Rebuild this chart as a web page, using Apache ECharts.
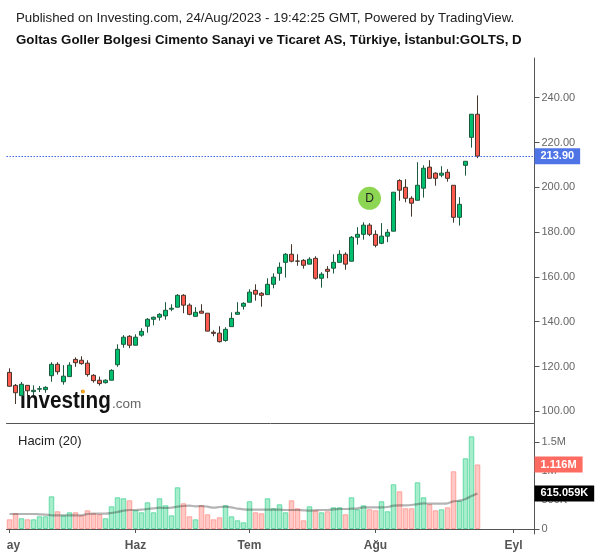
<!DOCTYPE html>
<html>
<head>
<meta charset="utf-8">
<style>html,body{margin:0;padding:0;background:#fff}#c{width:600px;height:558px}</style>
<script src="https://cdn.jsdelivr.net/npm/echarts@6/dist/echarts.min.js"></script>
</head>
<body>
<div id="c"></div>
<script>
const subtitleText = "Published on Investing.com, 24/Aug/2023 - 19:42:25 GMT, Powered by TradingView.";
const titleText = "Goltas Goller Bolgesi Cimento Sanayi ve Ticaret AS, Türkiye, İstanbul:GOLTS, D";
// [open, close, low, high]
const candles = [
[117.4,111.2,111.2,119.2],[111.6,108.3,103.3,112.2],[107.0,112.1,107.0,113.1],[111.6,109.2,107.3,111.6],
[108.8,109.4,107.3,111.6],[109.9,110.1,108.6,111.3],[109.7,110.7,108.3,111.2],[115.9,121.0,113.2,121.9],
[121.0,117.7,116.4,121.9],[113.2,115.7,111.9,120.6],[115.5,120.6,115.5,121.9],[123.2,121.7,119.9,124.1],
[122.8,121.3,120.8,124.6],[121.5,116.4,115.5,122.8],[116.1,113.7,112.8,116.6],[113.9,112.4,111.5,115.5],
[112.8,113.9,112.4,114.3],[113.9,118.3,113.9,118.8],[120.8,127.7,119.9,129.9],[129.9,133.1,128.4,134.0],
[133.5,129.5,128.2,134.0],[129.5,133.1,129.5,134.4],[134.0,135.7,133.3,137.1],[138.0,141.1,135.1,141.6],
[141.1,142.0,138.4,142.3],[142.0,143.3,140.5,143.8],[142.6,145.1,140.9,148.7],[145.6,146.0,144.7,147.8],
[146.5,151.8,146.5,152.3],[151.8,147.4,143.8,152.3],[147.4,143.3,142.9,148.2],[142.4,144.2,142.4,146.5],
[144.7,143.8,143.8,147.8],[143.8,135.8,135.8,143.8],[135.3,134.8,133.5,136.2],[134.9,131.1,130.7,138.0],
[131.6,136.6,131.1,137.5],[137.8,141.5,137.8,144.2],[143.3,144.2,143.3,148.7],[146.9,148.2,145.4,148.7],
[148.7,153.2,148.7,154.5],[154.0,152.3,149.4,156.7],[152.7,151.8,146.7,153.2],[152.1,156.7,152.1,159.4],
[156.7,159.9,154.9,161.6],[161.6,164.3,158.3,166.5],[166.5,170.1,159.7,170.6],[170.1,167.0,166.5,174.6],
[167.1,167.0,165.0,170.1],[167.4,165.2,163.7,167.9],[165.7,167.9,165.7,168.8],[168.3,159.4,158.8,169.2],
[159.4,161.2,155.2,162.1],[163.4,162.5,159.4,164.8],[163.9,166.5,161.5,170.1],[166.5,170.1,166.5,171.9],
[170.1,165.7,163.2,171.0],[167.0,177.7,167.0,178.2],[177.7,179.0,174.4,182.2],[179.0,183.1,176.6,184.4],
[183.1,179.0,178.2,184.0],[179.0,174.1,173.2,180.8],[175.0,178.2,174.6,184.0],[178.2,179.9,175.5,181.3],
[180.4,197.8,180.4,197.8],[203.0,198.7,194.0,203.6],[200.0,195.1,193.3,203.6],[195.1,192.9,186.9,196.0],
[194.2,200.9,194.2,211.2],[199.6,208.5,195.4,209.8],[209.0,204.0,204.0,212.1],[206.3,204.0,200.7,206.7],
[205.4,206.3,204.5,209.4],[206.7,204.0,202.5,208.1],[200.9,186.6,184.2,200.9],[186.6,192.4,182.9,195.6],
[209.8,211.6,205.2,211.6],[222.3,232.6,217.7,232.6],[232.6,213.9,213.0,241.0]
];
const volumesK = [
167,271,185,167,167,219,219,565,306,236,288,288,236,323,271,254,185,392,548,531,496,323,288,461,288,531,409,236,721,444,219,167,
409,254,167,202,409,219,150,115,479,288,271,531,358,427,288,496,358,150,392,323,288,306,375,375,254,548,340,409,340,323,479,306,773,652,
358,358,807,548,427,323,340,375,998,490,1223,1603,1116
];
const volumeMAK = [
260,260,260,260,260,254,249,236,236,236,236,236,236,260,265,265,265,277,294,317,329,329,334,346,358,369,363,369,386,398,404,392,
398,386,369,381,386,375,352,340,334,334,334,334,334,334,329,329,329,323,317,323,329,329,340,346,346,352,358,375,375,375,375,381,
404,409,409,415,432,444,438,438,438,444,479,490,519,571,615
];
const monthTicks = {0:"ay",21:"Haz",40:"Tem",61:"Ağu",84:"Eyl"};
const priceTicks = [100,120,140,160,180,200,220,240];
const volumeTicks = [0,500,1000,1500];
const volumeTickLabels = {0:"0",500:"500K",1000:"1M",1500:"1.5M"};
const slotCount = 88;
const lastPrice = 213.9;
const lastVolumeK = 1116;
const lastMAK = 615.059;
const signalIndex = 60, signalPrice = 195.1;

const categories = Array.from({length: slotCount}, (_, i) => String(i));
const UP = '#00bf6f', DOWN = '#ff5a4f';
const isMonth = i => monthTicks[i] !== undefined;
const axisGrey = '#555';
const font = '"Liberation Sans", Arial, sans-serif';
const tagLabel = (text, bg) => ({show: true, position: 'end', distance: 0, formatter: text, color: '#fff', fontFamily: font, fontSize: 11, fontWeight: 'bold', backgroundColor: bg, padding: [3,6,2,6]});

const chart = echarts.init(document.getElementById('c'), null, {renderer: 'canvas'});
chart.setOption({
  animation: false,
  backgroundColor: '#fff',
  title: [
    {text: subtitleText, left: 11, top: 7, textStyle: {fontFamily: font, fontSize: 13.3, fontWeight: 'normal', color: '#222'}},
    {text: titleText, left: 11, top: 29, textStyle: {fontFamily: font, fontSize: 13.3, fontWeight: 'bold', color: '#111'}},
    {text: 'Hacim (20)', left: 13, top: 430, textStyle: {fontFamily: font, fontSize: 13, fontWeight: 'normal', color: '#222'}}
  ],
  grid: [
    {left: 6.5, width: 528, top: 58, height: 365},
    {left: 6.5, width: 528, top: 424, height: 110}
  ],
  xAxis: [
    {type: 'category', gridIndex: 0, data: categories, boundaryGap: true,
     axisLine: {show: true, lineStyle: {color: axisGrey, width: 1}}, axisTick: {show: false}, axisLabel: {show: false}, splitLine: {show: false}},
    {type: 'category', gridIndex: 1, data: categories, boundaryGap: true,
     axisLine: {show: true, lineStyle: {color: axisGrey, width: 1}},
     axisTick: {show: true, alignWithLabel: true, length: 4, interval: i => isMonth(i), lineStyle: {color: axisGrey}},
     axisLabel: {show: true, interval: i => isMonth(i), margin: 6, color: axisGrey, fontFamily: font, fontSize: 12, fontWeight: 'bold',
       formatter: (v) => { const i = +v; return i === 0 ? '{a|' + monthTicks[i] + '}' : monthTicks[i]; },
       rich: {a: {padding: [0,0,0,8], color: axisGrey, fontFamily: font, fontSize: 12, fontWeight: 'bold'}}},
     splitLine: {show: false}}
  ],
  yAxis: [
    {type: 'value', gridIndex: 0, position: 'right', min: 94.8, max: 257.7, scale: true,
     axisLine: {show: true, lineStyle: {color: axisGrey, width: 1}},
     axisTick: {show: true, length: 5, customValues: priceTicks, lineStyle: {color: axisGrey}},
     axisLabel: {show: true, customValues: priceTicks, margin: 7, color: '#666', fontFamily: font, fontSize: 11, formatter: v => v.toFixed(2)},
     splitLine: {show: false}},
    {type: 'value', gridIndex: 1, position: 'right', min: -86.5, max: 1817,
     axisLine: {show: true, lineStyle: {color: axisGrey, width: 1}},
     axisTick: {show: true, length: 5, customValues: volumeTicks, lineStyle: {color: axisGrey}},
     axisLabel: {show: true, customValues: volumeTicks, margin: 7, color: '#666', fontFamily: font, fontSize: 11, formatter: v => volumeTickLabels[v]},
     splitLine: {show: false}}
  ],
  graphic: [
    {type: 'text', left: 20, top: 390, z: 1, scaleX: 0.9, style: {text: 'Investing', fontFamily: font, fontSize: 23, fontWeight: 'bold', fill: '#111'}},
    {type: 'text', left: 112, top: 397, z: 1, style: {text: '.com', fontFamily: font, fontSize: 13.5, fill: '#666'}},
    {type: 'circle', z: 2, shape: {cx: 83, cy: 391.5, r: 2}, style: {fill: '#f5a623'}}
  ],
  series: [
    {type: 'candlestick', xAxisIndex: 0, yAxisIndex: 0, data: candles, barWidth: 4, z: 3,
     itemStyle: {color: UP, color0: DOWN, borderColor: '#1c5a3e', borderColor0: '#45352b', borderWidth: 1},
     markLine: {silent: true, symbol: 'none', animation: false, z: 6,
       lineStyle: {color: '#3f62d8', type: [1.5,1.5], width: 1},
       label: tagLabel(lastPrice.toFixed(2), '#4e74e6'),
       data: [{yAxis: lastPrice}]},
     markPoint: {silent: true, animation: false, symbol: 'circle', symbolSize: 23, z: 6,
       itemStyle: {color: '#8dd653'}, label: {show: true, position: 'inside', formatter: 'D', color: '#222', fontFamily: font, fontSize: 12},
       data: [{coord: [signalIndex, signalPrice]}]}},
    {type: 'bar', xAxisIndex: 1, yAxisIndex: 1, barWidth: 5.5, z: 2,
     data: volumesK.map((v, i) => {
       const up = candles[i][1] >= candles[i][0];
       return {value: v, itemStyle: {color: up ? '#a6eecb' : '#ffc8c4', borderColor: up ? '#62daa6' : '#ffa09a', borderWidth: 1}};
     }),
     markLine: {silent: true, symbol: 'none', animation: false, z: 7,
       lineStyle: {width: 1, color: 'rgba(0,0,0,0)'},
       data: [
         {yAxis: lastVolumeK, label: tagLabel('1.116M', '#ff6b60')},
         {yAxis: lastMAK, label: tagLabel('615.059K', '#000')}
       ]}},
    {type: 'line', xAxisIndex: 1, yAxisIndex: 1, data: volumeMAK, showSymbol: false, smooth: 0.3, z: 4,
     lineStyle: {color: 'rgba(40,40,40,0.35)', width: 2.2}}
  ]
});
</script>
</body>
</html>
